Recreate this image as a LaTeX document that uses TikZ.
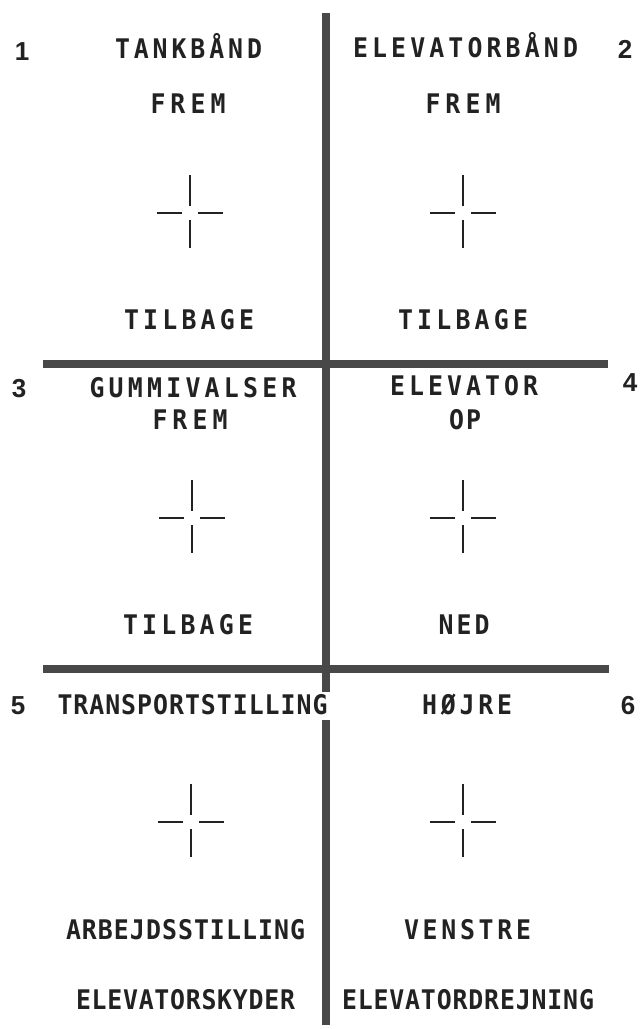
\documentclass[tikz,border=0pt]{standalone}
\usepackage{fontspec}
\setmonofont{DejaVu Sans Mono}
\newfontfamily\panelfont[FakeStretch=0.92]{DejaVu Sans Mono Bold}
\newfontfamily\numfont{Liberation Sans Bold}
\definecolor{linegray}{RGB}{72,72,72}
\definecolor{txtgray}{RGB}{34,34,34}
\def\sprA#1{#1\sprB}
\def\sprB#1{\ifx\relax#1\else\hfil#1\expandafter\sprB\fi}
\newcommand\spreadtxt[2]{\makebox[#2pt][s]{\sprA#1\relax}}
\tikzset{
  lbl/.style={inner sep=0pt, text height=19.5pt, text depth=0pt, anchor=center,
    font=\panelfont\fontsize{27}{27}\selectfont, text=txtgray},
  numlbl/.style={inner sep=0pt, text height=18.5pt, text depth=0pt, anchor=center,
    font=\numfont\fontsize{26}{26}\selectfont, text=txtgray},
  divider/.style={line width=7.5pt, draw=linegray},
  crossline/.style={line width=2.2pt, draw=txtgray},
  crosshair/.pic={
    \draw[crossline] (-33,0) -- (-8,0);
    \draw[crossline] (8,0) -- (33,0);
    \draw[crossline] (0,-38) -- (0,-7);
    \draw[crossline] (0,7) -- (0,35);
  }
}
\begin{document}
\begin{tikzpicture}[x=1pt,y=-1pt]
\useasboundingbox[fill=white] (0,0) rectangle (642,1029);
% dividers
\draw[divider] (326,13) -- (326,692);
\draw[divider] (326,720) -- (326,1025);
\draw[divider] (43,364) -- (608,364);
\draw[divider] (43,669) -- (609,669);
% crosshairs
\pic at (190,213) {crosshair};
\pic at (463,213) {crosshair};
\pic at (192,518) {crosshair};
\pic at (463,518) {crosshair};
\pic at (191,822) {crosshair};
\pic at (463,822) {crosshair};
% numbers
\node[numlbl] (n1) at (22,51) {1};
\node[numlbl] (n2) at (625,49) {2};
\node[numlbl] (n3) at (19,388) {3};
\node[numlbl] (n4) at (630,382) {4};
\node[numlbl] (n5) at (18,705) {5};
\node[numlbl] (n6) at (628,705) {6};
% panel 1
\node[lbl] (p1t) at (188.5,49) {\spreadtxt{TANKBÅND}{147}};
\node[lbl] (p1f) at (188,104) {\spreadtxt{FREM}{75}};
\node[lbl] (p1b) at (189,320) {\spreadtxt{TILBAGE}{130}};
% panel 2
\node[lbl] (p2t) at (465.5,48) {\spreadtxt{ELEVATORBÅND}{225}};
\node[lbl] (p2f) at (463,104) {\spreadtxt{FREM}{75}};
\node[lbl] (p2b) at (463,320) {\spreadtxt{TILBAGE}{130}};
% panel 3
\node[lbl] (p3t) at (193,388) {\spreadtxt{GUMMIVALSER}{207}};
\node[lbl] (p3f) at (190,420) {\spreadtxt{FREM}{75}};
\node[lbl] (p3b) at (188,625) {\spreadtxt{TILBAGE}{130}};
% panel 4
\node[lbl] (p4t) at (464,386) {\spreadtxt{ELEVATOR}{148}};
\node[lbl] (p4f) at (465,420) {\spreadtxt{OP}{32}};
\node[lbl] (p4b) at (464,625) {\spreadtxt{NED}{51}};
% panel 5
\node[lbl] (p5t) at (192.5,705) {\spreadtxt{TRANSPORTSTILLING}{270}};
\node[lbl] (p5b) at (185.5,930) {\spreadtxt{ARBEJDSSTILLING}{239}};
\node[lbl] (p5n) at (185.5,1000) {\spreadtxt{ELEVATORSKYDER}{219}};
% panel 6
\node[lbl] (p6t) at (467,705) {\spreadtxt{HØJRE}{90}};
\node[lbl] (p6b) at (467.5,930) {\spreadtxt{VENSTRE}{127}};
\node[lbl] (p6n) at (468,1000) {\spreadtxt{ELEVATORDREJNING}{252}};
\end{tikzpicture}
\end{document}
